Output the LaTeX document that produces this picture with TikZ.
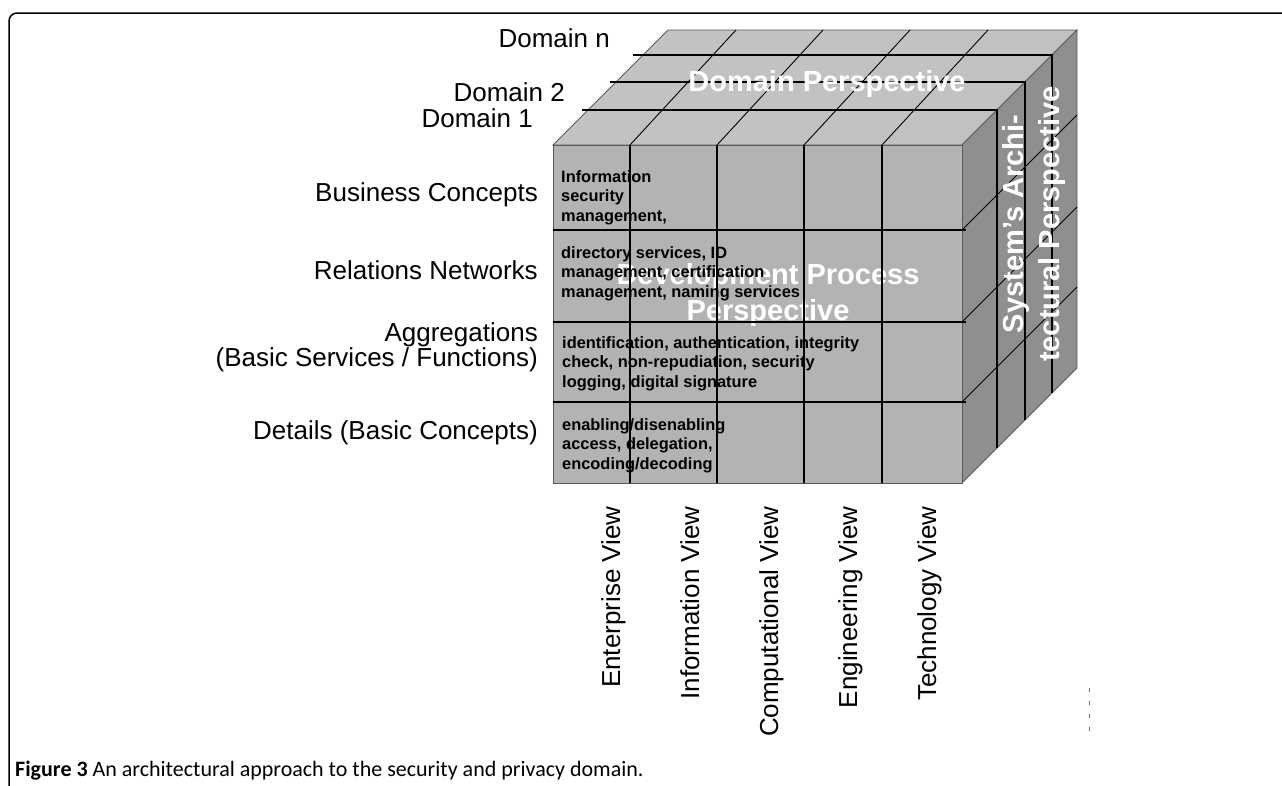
\documentclass[tikz,border=0pt]{standalone}
\usepackage{fontspec}
\setmainfont{Liberation Sans}
\newfontfamily\captionfont{Carlito}
\definecolor{topgray}{RGB}{194,194,194}
\definecolor{frontgray}{RGB}{179,179,179}
\definecolor{sidegray}{RGB}{143,143,143}

\begin{document}
\begin{tikzpicture}[
    x=1pt, y=-1pt,
    face/.style={draw=black!65, line width=0.8pt},
    gridline/.style={black, line width=2pt},
    hairline/.style={black, line width=0.9pt},
    rowlabel/.style={anchor=east, inner sep=0pt, align=right, font=\fontsize{26}{25}\selectfont},
    viewlabel/.style={rotate=90, anchor=base east, inner sep=0pt, font=\fontsize{26}{30}\selectfont},
    celltext/.style={anchor=north west, inner sep=0pt, align=left, font=\bfseries\fontsize{16.4}{19.5}\selectfont},
    persp/.style={text=white, inner sep=0pt, align=center, font=\bfseries\fontsize{29}{36}\selectfont}
    ]

    \useasboundingbox (0,0) rectangle (1282,785);

    % Outer frame
    \draw[line width=1.5pt, rounded corners=8pt] (9,800) -- (9,13) -- (1300,13);

    % Faces of the cube
    \filldraw[face, fill=topgray] (553,145) -- (668,30) -- (1077,30) -- (962,145) -- cycle;
    \filldraw[face, fill=sidegray] (962,145) -- (1077,30) -- (1077,368) -- (962,483) -- cycle;
    \filldraw[face, fill=frontgray] (553,145) rectangle (962,483);

    % Big label behind the cells
    \node[persp] (devpersp) at (768,294.5) {Development Process\\Perspective};

    % Cell contents (first column)
    \node[celltext] (cell1) at (561,170) {Information\\security\\management,};
    \node[celltext] (cell2) at (561,246) {directory services, ID\\management, certification\\management, naming services};
    \node[celltext] (cell3) at (562,336) {identification, authentication, integrity\\check, non-repudiation, security\\logging, digital signature};
    \node[celltext] (cell4) at (562,418) {enabling/disenabling\\access, delegation,\\encoding/decoding};

    % Grid on the top face
    \foreach \x in {630,717,804,882}
        \draw[hairline] (\x,145) -- (\x+106,30);
    % Grid on the right face
    \foreach \y in {230,322,402}
        \draw[hairline] (962,\y) -- (1077,\y-115);

    % Domain slices (top face and right face)
    \foreach \dd/\xa in {35/582, 63/610, 90/633}
        \draw[gridline] (\xa,145-\dd) -- (962+\dd,145-\dd) -- (962+\dd,483-\dd);

    % Grid on the front face
    \foreach \x in {630,717,804,882}
        \draw[gridline] (\x,145) -- (\x,483);
    \foreach \y in {230,322,402}
        \draw[gridline] (553,\y) -- (966,\y);

    % Perspective labels on top
    \node[persp] (dompersp) at (827,84) {Domain Perspective};
    \node[persp, rotate=90] (syspersp) at (1034,224) {System's Archi-\\tectural Perspective};

    % Domain labels
    \node[rowlabel] (domn) at (610,38.5) {Domain n};
    \node[rowlabel] (dom2) at (565,92) {Domain 2};
    \node[rowlabel] (dom1) at (533,118.5) {Domain 1};

    % Row labels
    \node[rowlabel] (business) at (538,195) {Business Concepts};
    \node[rowlabel] (relations) at (538,270) {Relations Networks};
    \node[rowlabel] (aggregations) at (538,347.5) {Aggregations\\(Basic Services / Functions)};
    \node[rowlabel] (details) at (538,433) {Details (Basic Concepts)};

    % View labels
    \node[viewlabel] (enterprise) at (620,506) {Enterprise View};
    \node[viewlabel] (information) at (699,506) {Information View};
    \node[viewlabel] (computational) at (778,506) {Computational View};
    \node[viewlabel] (engineering) at (857,506) {Engineering View};
    \node[viewlabel] (technology) at (936,506) {Technology View};

    % small marks at the lower right
    \draw[black!55, line width=1pt, dash pattern=on 4pt off 9pt] (1089,688) -- (1089,738);

    % Caption
    \node[anchor=base west, inner sep=0pt] (caption) at (15,776)
        {\captionfont\fontsize{22}{24}\selectfont\textbf{Figure 3} An architectural approach to the security and privacy domain.};

\end{tikzpicture}
\end{document}
